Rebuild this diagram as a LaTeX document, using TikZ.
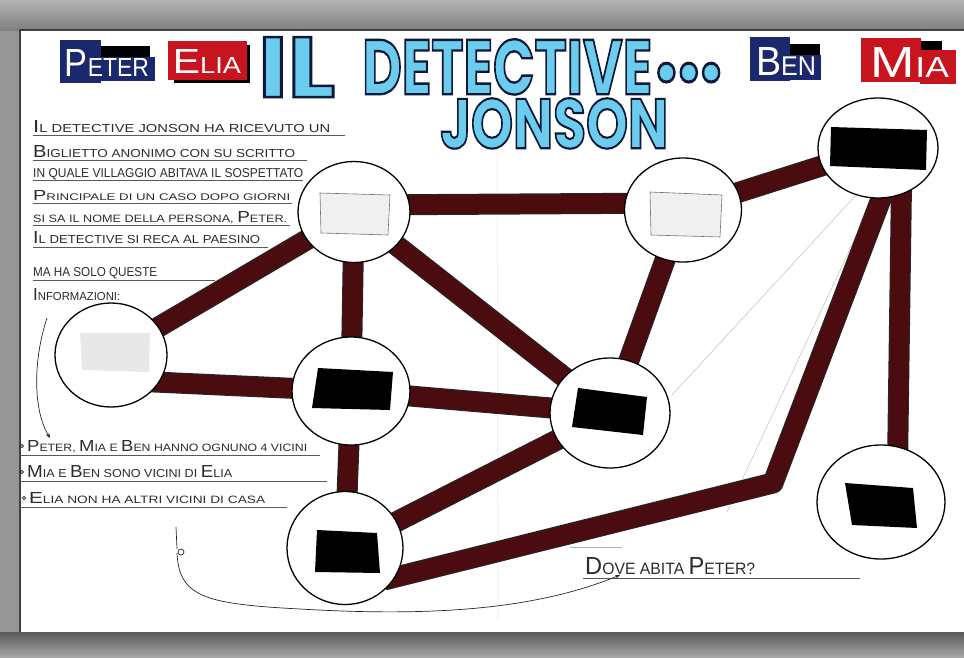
\documentclass[tikz,border=0pt]{standalone}
\usepackage{fontspec}
\usepackage{graphicx}
\usetikzlibrary{shapes.geometric,calc,arrows.meta}
\newfontfamily\handfont{Liberation Sans}
\newfontfamily\titlefont{Poppins}[BoldFeatures={FakeBold=3}]
\definecolor{roadc}{RGB}{74,12,14}
\definecolor{navytag}{RGB}{28,40,110}
\definecolor{redtag}{RGB}{200,20,30}
\definecolor{inkc}{RGB}{45,45,45}
\definecolor{frameg}{RGB}{150,150,150}
\newcommand{\Bg}[1]{{\fontsize{15}{15}\selectfont #1}}
\newcommand{\hl}[3]{\resizebox{#1pt}{#2pt}{\handfont\fontsize{10}{10}\selectfont #3}}
\newcommand{\ttl}[3]{\resizebox{#1pt}{#2pt}{\special{pdf:bcolor [0.42 0.80 0.93] [0.05 0.1 0.22]}\titlefont\bfseries\fontsize{40}{40}\selectfont #3\special{pdf:ecolor}}}
\pgfdeclarelayer{bg}
\pgfdeclarelayer{roads}
\pgfsetlayers{bg,roads,main}
\begin{document}
\begin{tikzpicture}[x=1pt,y=-1pt,
  house/.style={ellipse, draw=black, line width=1.3pt, fill=white, inner sep=0pt},
  road/.style={draw=black!85, line width=1pt, double=roadc, double distance=19pt, line join=round},
  uline/.style={draw=black!65, line width=0.6pt},
  handtext/.style={anchor=base west, inner sep=0pt, text=inkc},
  pencil/.style={draw=black!25, line width=0.5pt},
  ink/.style={draw=black!85, line width=0.7pt},
  arr/.style={ink, -{Stealth[length=5pt,width=4pt]}},
  tagtext/.style={inner sep=0pt, text=white},
  ]
\useasboundingbox (0,0) rectangle (964,657);
\begin{pgfonlayer}{bg}
  \fill[frameg] (0,0) rectangle (964,657);
  \shade[top color=black!30, bottom color=black!50] (0,0) rectangle (964,30);
  \shade[top color=black!65, bottom color=black!35] (0,632) rectangle (964,657);
  \fill[white] (20,30) rectangle (964,632);
  \draw[black!75, line width=1.2pt] (20,632) -- (20,30) -- (964,30);
  \draw[black!10, line width=0.5pt] (497,150) -- (498,620);
\end{pgfonlayer}

% houses
\node[house, minimum width=112pt, minimum height=101pt] (A) at (354,212) {};
\node[house, minimum width=117pt, minimum height=104pt] (B) at (683,210) {};
\node[house, minimum width=120pt, minimum height=100pt] (C) at (878,148) {};
\node[house, minimum width=112pt, minimum height=104pt] (D) at (111,355) {};
\node[house, minimum width=118pt, minimum height=108pt] (E) at (351,391) {};
\node[house, minimum width=120pt, minimum height=110pt] (F) at (610,413) {};
\node[house, minimum width=116pt, minimum height=113pt] (G) at (345,548) {};
\node[house, minimum width=128pt, minimum height=114pt] (H) at (881,502) {};
\coordinate (bend) at (773,483);

\begin{pgfonlayer}{roads}
  \draw[pencil] (C.-115) -- (672,395);
  \draw[pencil] (C.-95) -- (727,512);
  \draw[road] (D.center) -- (A.center);
  \draw[road] ([yshift=-25pt]D.center) -- (E.center);
  \draw[road] ([yshift=7pt]A.center) -- ([yshift=7pt]B.center);
  \draw[road] (A.center) -- (E.center);
  \draw[road] (A.center) -- (F.center);
  \draw[road] (B.center) -- (C.center);
  \draw[road] (B.center) -- (F.center);
  \draw[road] (E.center) -- (F.center);
  \draw[road] (E.center) -- (G.center);
  \draw[road] (F.center) -- (G.center);
  \draw[road] ([xshift=14pt,yshift=-22pt]C.center) -- (bend) -- ($(G.-30)!-12pt!(bend)$);
  \draw[road] ([xshift=24pt]C.center) -- ([xshift=16pt]H.center);
\end{pgfonlayer}

% house contents
\draw[black!55, fill=black!6, line width=0.6pt] (320,193) -- (390,195) -- (388,235) -- (321,233) -- cycle;
\draw[black!55, fill=black!6, line width=0.6pt] (650,192) -- (722,195) -- (720,237) -- (651,235) -- cycle;
\fill[black] (831,127) -- (927,130) -- (926,170) -- (830,166) -- cycle;
\fill[black!9] (80,333) -- (150,333) -- (149,372) -- (82,370) -- cycle;
\fill[black] (318,368) -- (393,372) -- (390,410) -- (312,408) -- cycle;
\fill[black] (578,388) -- (647,397) -- (643,435) -- (572,427) -- cycle;
\fill[black] (317,530) -- (377,533) -- (380,573) -- (315,572) -- cycle;
\fill[black] (845,483) -- (913,488) -- (917,528) -- (852,525) -- cycle;

% title (one block, two lines)
\node[anchor=north west, inner sep=0pt] (title) at (258,37) {\vbox{\offinterlineskip
  \hbox{\ttl{77}{60}{IL}\hspace{27pt}\raisebox{3pt}{\ttl{290}{55}{DETECTIVE}}\hspace{3pt}\raisebox{16pt}{\ttl{67}{18}{...}}}
  \vskip1pt
  \hbox{\hspace{182pt}\ttl{228}{50}{JONSON}}}};

% name tags
\fill[black] (98,46) rectangle (150,60);
\fill[navytag] (60,40) rectangle (101,83);
\fill[navytag] (100,57) rectangle (155,81);
\node[tagtext] (peter) at (107,63) {\resizebox{84pt}{27pt}{\handfont\Bg{P}ETER}};
\fill[black] (174,45) rectangle (250,83);
\fill[redtag] (168,41) rectangle (247,80);
\node[tagtext] (elia) at (207,61) {\resizebox{68pt}{24pt}{\handfont\Bg{E}LIA}};
\fill[black] (785,44) rectangle (820,56);
\fill[navytag] (750,37) rectangle (790,81);
\fill[navytag] (789,55) rectangle (821,80);
\node[tagtext] (ben) at (786,61) {\resizebox{60pt}{28pt}{\handfont\Bg{B}EN}};
\fill[black] (918,41) rectangle (942,52);
\fill[redtag] (861,38) rectangle (921,82);
\fill[redtag] (920,50) rectangle (956,84);
\node[tagtext] (mia) at (910,62) {\resizebox{78pt}{30pt}{\handfont\Bg{M}IA}};

% story text
\node[handtext] (l1) at (33,132) {\hl{297}{12}{\Bg{I}L DETECTIVE JONSON HA RICEVUTO UN}};
\node[handtext] (l2) at (33,157) {\hl{262}{12}{\Bg{B}IGLIETTO ANONIMO CON SU SCRITTO}};
\node[handtext] (l3) at (33,177) {\hl{270}{9}{IN QUALE VILLAGGIO ABITAVA IL SOSPETTATO}};
\node[handtext] (l4) at (33,200) {\hl{257}{10}{\Bg{P}RINCIPALE DI UN CASO DOPO GIORNI}};
\node[handtext] (l5) at (33,222) {\hl{254}{11}{SI SA IL NOME DELLA PERSONA, \Bg{P}ETER.}};
\node[handtext] (l6) at (33,243) {\hl{227}{12}{\Bg{I}L DETECTIVE SI RECA AL PAESINO}};
\node[handtext] (l7) at (33,276) {\hl{124}{9}{MA HA SOLO QUESTE}};
\node[handtext] (l8) at (33,300) {\hl{87}{12}{\Bg{I}NFORMAZIONI:}};
\draw[uline] (33,135) -- (345,135);
\draw[uline] (33,160) -- (307,160);
\draw[uline] (33,180) -- (303,180);
\draw[uline] (33,203) -- (292,203);
\draw[uline] (33,225) -- (290,225);
\draw[uline] (33,247) -- (268,247);
\draw[uline] (33,280) -- (215,280);

% clues
\draw[ink] (22,446) circle (1.6pt);
\draw[ink] (22,472) circle (1.6pt);
\draw[ink] (24,498) circle (1.6pt);
\node[handtext] (c1) at (27,451) {\hl{280}{11}{\Bg{P}ETER, \Bg{M}IA E \Bg{B}EN HANNO OGNUNO 4 VICINI}};
\node[handtext] (c2) at (27,477) {\hl{205}{12}{\Bg{M}IA E \Bg{B}EN SONO VICINI DI \Bg{E}LIA}};
\node[handtext] (c3) at (29,503) {\hl{236}{11}{\Bg{E}LIA NON HA ALTRI VICINI DI CASA}};
\draw[uline] (20,455) -- (320,455);
\draw[uline] (20,481) -- (327,481);
\draw[uline] (20,507) -- (287,507);

% question
\node[handtext] (q) at (585,574) {\hl{170}{17}{\Bg{D}OVE ABITA \Bg{P}ETER?}};
\draw[uline] (583,578) -- (860,578);
\draw[draw=black!30, line width=0.5pt] (570,547) -- (622,547);

% arrows
\draw[arr] (47,318) .. controls (33,360) and (33,410) .. (50,438);
\draw[ink] (176,527) -- (177,549);
\draw[ink] (181,552) circle (3pt);
\draw[arr] (177,553) .. controls (179,597) and (205,604) .. (300,609) .. controls (420,616) and (530,612) .. (620,575);
\end{tikzpicture}
\end{document}
